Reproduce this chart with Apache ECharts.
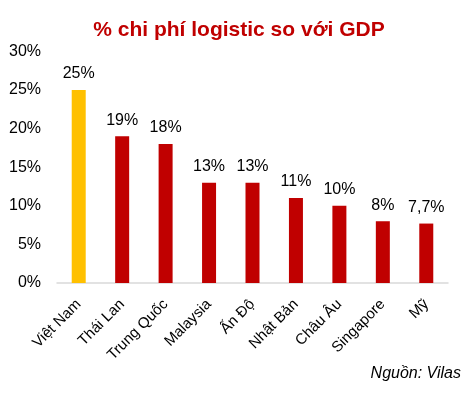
<!DOCTYPE html>
<html><head><meta charset="utf-8">
<script src="https://cdn.jsdelivr.net/npm/echarts@6/dist/echarts.min.js"></script>
<style>html,body{margin:0;padding:0;background:#fff}#c{width:472px;height:395px}</style>
</head><body><div id="c"></div>
<script>
const categories = ["Việt Nam","Thái Lan","Trung Quốc","Malaysia","Ấn Độ","Nhật Bản","Châu Âu","Singapore","Mỹ"];
const values = [25, 19, 18, 13, 13, 11, 10, 8, 7.7];
const valueLabels = ["25%","19%","18%","13%","13%","11%","10%","8%","7,7%"];
const yTicks = [0,5,10,15,20,25,30];

const chart = echarts.init(document.getElementById('c'));
const FONT = '"Liberation Sans", Arial, sans-serif';
chart.setOption({
  animation: false,
  title: {
    text: '% chi phí logistic so với GDP',
    left: 234, top: 15, textAlign: 'center',
    textStyle: {color: '#C00000', fontSize: 21, fontWeight: 'bold', fontFamily: FONT}
  },
  graphic: [{
    type: 'text', right: 11, top: 366,
    style: {text: 'Nguồn: Vilas', font: 'italic 16px ' + FONT, fill: '#000'}
  }],
  grid: {left: 57, right: 24, top: 51.4, bottom: 112},
  xAxis: {
    type: 'category', data: categories,
    axisLine: {lineStyle: {color: '#d9d9d9', width: 1.5}},
    axisTick: {show: false},
    axisLabel: {rotate: 45, interval: 0, color: '#000', fontSize: 15, fontFamily: FONT, margin: 19},
  },
  yAxis: {
    type: 'value', min: 0, max: 30, interval: 5,
    splitLine: {show: false},
    axisLine: {show: false}, axisTick: {show: false},
    axisLabel: {color: '#000', fontSize: 16, fontFamily: FONT, margin: 16,
      formatter: v => v + '%'}
  },
  series: [{
    type: 'bar', barWidth: 14,
    data: values.map((v, i) => ({value: v, itemStyle: {color: i === 0 ? '#FFC000' : '#C00000'}})),
    label: {show: true, position: 'top', distance: 8, color: '#000', fontSize: 16, fontFamily: FONT,
      formatter: p => valueLabels[p.dataIndex]}
  }]
});
</script></body></html>
